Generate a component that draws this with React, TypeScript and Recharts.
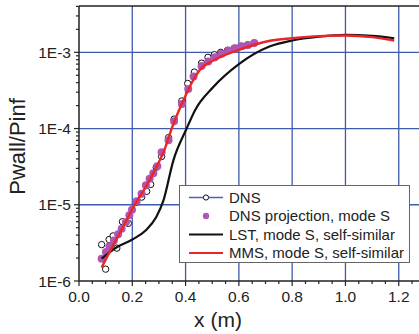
import React from 'react';
import { ComposedChart, Line, Scatter, XAxis, YAxis, CartesianGrid, ReferenceLine } from 'recharts';

const FONT = '"Liberation Sans", Arial, sans-serif';

// DNS (open circles)
const dnsX = [0.085, 0.1, 0.113, 0.128, 0.142, 0.163, 0.185, 0.216, 0.235, 0.254, 0.269, 0.29, 0.31, 0.336, 0.357, 0.386, 0.408, 0.433, 0.46, 0.484, 0.508, 0.532, 0.557, 0.582, 0.607, 0.632, 0.657];
const dnsY = [3.0e-6, 1.43e-6, 3.5e-6, 3.9e-6, 2.7e-6, 6.0e-6, 5.7e-6, 1.08e-5, 1.26e-5, 1.5e-5, 1.85e-5, 3.1e-5, 4.3e-5, 7.6e-5, 1.33e-4, 2.3e-4, 3.9e-4, 5.5e-4, 7.2e-4, 8.6e-4, 9.3e-4, 1.0e-3, 1.06e-3, 1.13e-3, 1.2e-3, 1.25e-3, 1.32e-3];

// DNS projection, mode S (filled dots)
const projX = [0.085, 0.101, 0.114, 0.131, 0.147, 0.16, 0.176, 0.189, 0.199, 0.216, 0.235, 0.251, 0.265, 0.279, 0.294, 0.31, 0.336, 0.357, 0.386, 0.41, 0.43, 0.46, 0.485, 0.51, 0.535, 0.56, 0.585, 0.61, 0.635, 0.658];
const projY = [1.96e-6, 2.4e-6, 2.85e-6, 3.4e-6, 4.1e-6, 4.85e-6, 5.9e-6, 7.3e-6, 8.6e-6, 1.11e-5, 1.39e-5, 1.8e-5, 2.2e-5, 2.6e-5, 3.2e-5, 4.9e-5, 7.0e-5, 1.25e-4, 2.1e-4, 3.3e-4, 4.8e-4, 6.6e-4, 7.6e-4, 8.6e-4, 9.6e-4, 1.06e-3, 1.13e-3, 1.2e-3, 1.25e-3, 1.32e-3];

// LST, mode S, self-similar
const lstX = [0.085, 0.14, 0.2, 0.25, 0.29, 0.317, 0.354, 0.404, 0.435, 0.504, 0.6, 0.717, 0.8, 0.9, 1.0, 1.1, 1.183];
const lstY = [1.96e-6, 2.75e-6, 3.5e-6, 4.6e-6, 6.9e-6, 1.14e-5, 3.8e-5, 1.0e-4, 1.73e-4, 3.5e-4, 7.0e-4, 1.2e-3, 1.43e-3, 1.6e-3, 1.69e-3, 1.64e-3, 1.53e-3];

// MMS, mode S, self-similar
const mmsX = [0.085, 0.12, 0.16, 0.2, 0.25, 0.29, 0.32, 0.348, 0.38, 0.404, 0.43, 0.454, 0.504, 0.6, 0.717, 0.8, 0.9, 1.0, 1.1, 1.183];
const mmsY = [1.5e-6, 2.6e-6, 4.7e-6, 8.8e-6, 1.7e-5, 3.1e-5, 5.2e-5, 1.0e-4, 1.9e-4, 2.9e-4, 4.4e-4, 5.9e-4, 7.8e-4, 1.08e-3, 1.42e-3, 1.53e-3, 1.63e-3, 1.66e-3, 1.58e-3, 1.43e-3];

const xTicks = [0, 0.05, 0.1, 0.15, 0.2, 0.25, 0.3, 0.35, 0.4, 0.45, 0.5, 0.55, 0.6, 0.65, 0.7, 0.75, 0.8, 0.85, 0.9, 0.95, 1.0, 1.05, 1.1, 1.15, 1.2, 1.25];
const xMajor = [0, 0.2, 0.4, 0.6, 0.8, 1.0, 1.2];
const yTicks = [
  1e-6, 2e-6, 3e-6, 4e-6, 5e-6, 6e-6, 7e-6, 8e-6, 9e-6,
  1e-5, 2e-5, 3e-5, 4e-5, 5e-5, 6e-5, 7e-5, 8e-5, 9e-5,
  1e-4, 2e-4, 3e-4, 4e-4, 5e-4, 6e-4, 7e-4, 8e-4, 9e-4,
  1e-3, 2e-3, 3e-3, 4e-3,
];
const yMajor = [1e-5, 1e-4, 1e-3];

const zip = (xs: number[], ys: number[]) => xs.map((x, i) => ({ x, y: ys[i] }));
const dnsData = zip(dnsX, dnsY);
const projData = zip(projX, projY);
const lstData = zip(lstX, lstY);
const mmsData = zip(mmsX, mmsY);

const isDecade = (v: number) => Math.abs(Math.log10(v) - Math.round(Math.log10(v))) < 1e-6;

const YTick = (props: any) => {
  const { x, y, payload } = props;
  const major = isDecade(payload.value);
  return (
    <g>
      <line x1={x - (major ? 5 : 3)} x2={x} y1={y} y2={y} stroke="#222" strokeWidth={1.2} />
      {major && (
        <text x={x - 8} y={y} dy="0.36em" textAnchor="end" fontSize={15.5} fontFamily={FONT} fill="#222">
          {'1E' + Math.round(Math.log10(payload.value))}
        </text>
      )}
    </g>
  );
};

const XTick = (props: any) => {
  const { x, y, payload } = props;
  const major = xMajor.some((m) => Math.abs(m - payload.value) < 1e-6);
  return (
    <g>
      <line x1={x} x2={x} y1={y} y2={y + (major ? 5 : 3)} stroke="#222" strokeWidth={1.2} />
      {major && (
        <text x={x} y={y + 21} textAnchor="middle" fontSize={15.5} fontFamily={FONT} fill="#222">
          {payload.value.toFixed(1)}
        </text>
      )}
    </g>
  );
};

const OpenCircle = (props: any) => (
  <circle cx={props.cx} cy={props.cy} r={3.2} fill="#fff" stroke="#111" strokeWidth={1} />
);
const Dot = (props: any) => <circle cx={props.cx} cy={props.cy} r={4} fill="#b155b4" />;

const Legend = () => (
  <div style={{ position: 'absolute', left: 179, top: 185, width: 231, height: 78, boxSizing: 'border-box', border: '1px solid #666', background: '#fff' }}>
    <svg width={229} height={76} style={{ display: 'block' }}>
      <g fontFamily={FONT} fontSize={15} fill="#222">
        <line x1={9} x2={43} y1={11.5} y2={11.5} stroke="#4a66b0" strokeWidth={1.5} />
        <circle cx={26} cy={11.5} r={2.6} fill="#fff" stroke="#111" strokeWidth={1} />
        <text x={49} y={11.5} dy="0.36em">DNS</text>
        <circle cx={26} cy={30} r={3.2} fill="#b155b4" />
        <text x={49} y={30} dy="0.36em">DNS projection, mode S</text>
        <line x1={9} x2={43} y1={48.5} y2={48.5} stroke="#111" strokeWidth={2.2} />
        <text x={49} y={48.5} dy="0.36em">LST, mode S, self-similar</text>
        <line x1={9} x2={43} y1={67} y2={67} stroke="#e8262a" strokeWidth={2.2} />
        <text x={49} y={67} dy="0.36em">MMS, mode S, self-similar</text>
      </g>
    </svg>
  </div>
);

export default function App() {
  return (
    <div style={{ position: 'absolute', left: 0, top: 0, width: 419, height: 334, background: '#fff' }}>
      <ComposedChart width={419} height={334} margin={{ top: 6, right: 0, bottom: 0, left: 0 }}>
        <CartesianGrid
          stroke="#3f5bab"
          strokeWidth={1.3}
          horizontalValues={yMajor}
          verticalValues={xMajor.slice(1)}
        />
        <XAxis
          type="number"
          dataKey="x"
          domain={[0, 1.276]}
          allowDataOverflow
          ticks={xTicks}
          interval={0}
          height={53}
          tickSize={0}
          tickMargin={0}
          tickLine={false}
          axisLine={{ stroke: '#222', strokeWidth: 1.5 }}
          tick={<XTick />}
          label={{
            content: () => (
              <text x={218} y={327} textAnchor="middle" fontSize={21} fontFamily={FONT} fill="#222">x (m)</text>
            ),
          }}
        />
        <YAxis
          type="number"
          dataKey="y"
          scale="log"
          domain={[1e-6, 4.05e-3]}
          allowDataOverflow
          ticks={yTicks}
          interval={0}
          width={79}
          tickSize={0}
          tickMargin={0}
          tickLine={false}
          axisLine={{ stroke: '#222', strokeWidth: 1.5 }}
          tick={<YTick />}
          label={{
            content: () => (
              <text
                x={17.5}
                y={146.5}
                transform="rotate(-90 17.5 146.5)"
                textAnchor="middle"
                dy="0.36em"
                fontSize={22}
                fontFamily={FONT}
                fill="#222"
              >
                Pwall/Pinf
              </text>
            ),
          }}
        />
        <ReferenceLine y={4.05e-3} stroke="#222" strokeWidth={1.5} ifOverflow="visible" />
        <Scatter data={dnsData} dataKey="y" shape={<OpenCircle />} isAnimationActive={false} />
        <Scatter data={projData} dataKey="y" shape={<Dot />} isAnimationActive={false} />
        <Line data={lstData} dataKey="y" type="monotone" stroke="#111" strokeWidth={2.2} dot={false} isAnimationActive={false} zIndex={700} />
        <Line data={mmsData} dataKey="y" type="monotone" stroke="#e8262a" strokeWidth={2.4} dot={false} isAnimationActive={false} zIndex={701} />
      </ComposedChart>
      <Legend />
    </div>
  );
}
